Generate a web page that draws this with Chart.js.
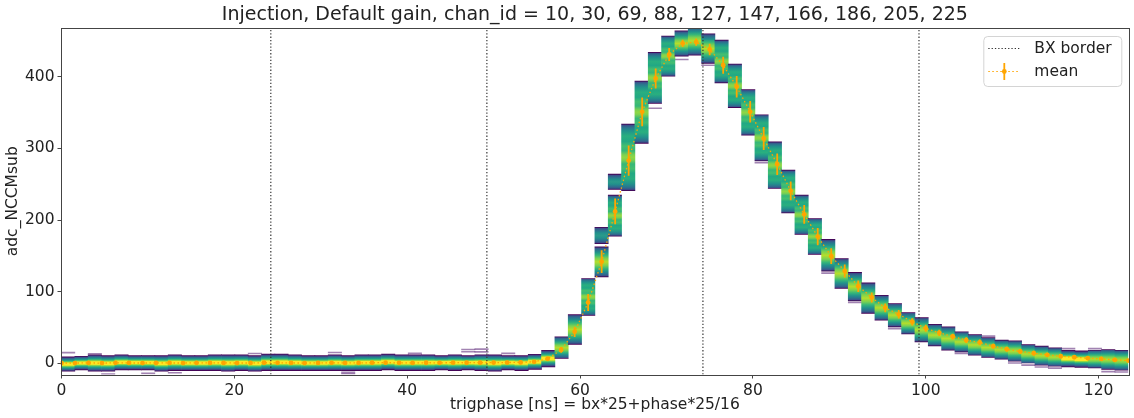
<!DOCTYPE html>
<html>
<head>
<meta charset="utf-8">
<title>Injection scan</title>
<script src="https://cdn.jsdelivr.net/npm/chart.js@4.4.1/dist/chart.umd.min.js"></script>
<style>
  html, body { margin: 0; padding: 0; background: #fff; }
  #plot { display: block; }
</style>
</head>
<body>
<canvas id="plot" width="1134" height="418"></canvas>
<script>
// trigphase grid: one point per phase step (25/16 ns), 80 steps
const trigphase = Array.from({ length: 80 }, (_, k) => k * 25 / 16);
const X_MAX = 123.4375;
const BIN_W = X_MAX / 80;   // 2D histogram x-bin width

// 2D histogram: occupied adc range of each x-bin
const histLo = [
  -11, -9, -11, -11, -9, -9, -9, -11, -10, -10, -10, -10, -11, -10, -11, -10,
  -10, -10, -10, -10, -10, -10, -10, -10, -9, -10, -10, -10, -9, -10, -9, -10,
  -11, -9, -10, -8.5,
  -4.9, 6.8, 26.4, 67, 120.7, 177.6, 241, 307, 362.7, 400.8, 428.8, 430,
  418.6, 391.5, 357, 318.5, 282.6, 244, 210, 180, 152, 128.7, 104.5, 87.2,
  69.7, 60.3, 51, 41, 30, 24.4, 18.4, 16, 11.4, 8.2, 5.9, 3, 0, -2.5,
  -3.9, -4.9, -5.7, -6.3, -8.5, -9.5
];
const histHi = [
  9, 10, 12, 11, 12, 11, 11, 11, 12, 11, 11, 12, 12, 12, 11, 13,
  13, 12, 11, 11, 12, 11, 12, 12, 13, 12, 12, 12, 11, 12, 11, 12,
  12, 11, 11, 12.8,
  18.4, 37, 68.2, 118.5, 162.6, 234.7, 334, 394, 434, 456.7, 464, 470,
  460, 451, 417.6, 382, 347, 309, 269.6, 234.7, 202, 173, 146.4, 126.9,
  112.4, 95, 83.6, 71, 63.8, 54.5, 51, 44, 40.3, 36.1, 32.4, 31.4, 26.4, 24,
  21.6, 18.4, 17.4, 18.4, 19.4, 18.4
];

// separate upper blocks (channels sitting higher in the same bin)
const blockBin = [40, 41];
const blockLo = [167, 242.6];
const blockHi = [190, 264];

// single-entry cells away from the bulk
const strayBin = [0, 2, 3, 6, 8, 14, 20, 21, 21, 26, 30, 30, 31, 31, 33,
  44, 46, 48, 52, 57, 59, 62, 67, 69, 71, 72, 73, 74, 75, 77, 78, 79];
const strayAdc = [15, 13.5, -15, -14, -13, 13.8, 15.2, -12.5, -14.5, 14, 19.4, 16.2, 19.8, 16, 14,
  356, 424, 416, 280, 126, 85, 48.5, 14, 38, 0.5, -2.5, -5, -6.5, 20.5, 20.5, -11.5, -12];

// mean and spread per phase
const meanAdc = [
  0.6, 0.5, 0.7, 0.4, 0.8, 0.6, 0.5, 0.7, 0.6, 0.5, 0.8, 0.6, 0.7, 0.5, 0.6, 0.9,
  0.8, 0.6, 0.5, 0.7, 0.8, 0.6, 0.7, 0.9, 1.0, 0.8, 0.7, 0.9, 0.8, 1.0, 0.9, 1.0,
  1.1, 1.2, 1.4, 2.2,
  6.5, 18.8, 44, 85, 142, 212, 283, 351, 397.6, 431, 446.5, 448.3,
  438, 416, 386, 351, 313.8, 278, 240.8, 208, 177, 149.6, 129, 107.7,
  92, 77.5, 68.5, 58, 49, 42.6, 37.5, 32.4, 29.2, 24, 19.8, 16.6, 14.2, 11.9,
  10, 8.7, 7.3, 6.3, 4.9, 4.0
];
const meanErr = [
  2.5, 2.5, 2.5, 2.5, 2.5, 2.5, 2.5, 2.5, 2.5, 2.5, 2.5, 2.5, 2.5, 2.5, 2.5, 2.5,
  2.5, 2.5, 2.5, 2.5, 2.5, 2.5, 2.5, 2.5, 2.5, 2.5, 2.5, 2.5, 2.5, 2.5, 2.5, 2.5,
  2.5, 2.5, 2.5, 2.5,
  2, 4, 7, 12, 16, 18, 21, 20, 14, 9, 5, 5,
  8, 12, 15, 15, 16, 15, 13, 13, 12, 11, 9, 8,
  7, 6, 6, 5, 5, 4.5, 4, 4, 4, 3.5, 3.5, 3.5, 3.5, 3,
  3, 3, 3, 3, 3, 3
];

const bxBorders = [24.21875, 49.21875, 74.21875, 99.21875];
const xTicks = [0, 20, 40, 60, 80, 100, 120];
const yTicks = [0, 100, 200, 300, 400];
const Y_MIN = -15.5, Y_MAX = 468;

const FONT = "'DejaVu Sans', sans-serif";
const ORANGE = '#ffa500';

// viridis ramps, half profile from cell edge (0) to cell centre (0.5)
const RAMP_CORE = [[0, '#440154'], [0.05, '#46327e'], [0.1, '#365c8d'], [0.17, '#277f8e'],
  [0.24, '#1fa187'], [0.31, '#4ac16d'], [0.37, '#a0da39'], [0.42, '#fde725'], [0.5, '#fde725']];
const RAMP_MID = [[0, '#440154'], [0.04, '#3b528b'], [0.1, '#2c728e'], [0.18, '#21918c'],
  [0.28, '#35b779'], [0.38, '#7ad151'], [0.5, '#b5de2b']];
const RAMP_WIDE = [[0, '#440154'], [0.02, '#3b528b'], [0.05, '#2c728e'], [0.1, '#21918c'],
  [0.18, '#29af7f'], [0.26, '#22a884'], [0.33, '#44bf70'], [0.4, '#35b779'], [0.46, '#7ad151'], [0.5, '#8fd744']];
const RAMP_SIDE = [[0, '#440154'], [0.08, '#3b528b'], [0.2, '#2c728e'], [0.35, '#21918c'], [0.5, '#2a9a8a']];

function cellFill(context, fixedRamp) {
  const chart = context.chart;
  const raw = context.raw;
  const yScale = chart.scales.y;
  if (!raw || !yScale) return '#21918c';
  const [lo, hi] = raw.y;
  const top = yScale.getPixelForValue(hi);
  const bot = yScale.getPixelForValue(lo);
  if (!isFinite(top) || !isFinite(bot) || bot - top < 1) return '#21918c';
  const span = hi - lo;
  const ramp = fixedRamp || (span < 24 ? RAMP_CORE : span < 45 ? RAMP_MID : RAMP_WIDE);
  const g = chart.ctx.createLinearGradient(0, top, 0, bot);
  ramp.forEach(([t, c]) => g.addColorStop(t, c));
  ramp.slice().reverse().forEach(([t, c]) => g.addColorStop(1 - t, c));
  return g;
}

const histCells = trigphase.map((_, k) => ({ x: (k + 0.5) * BIN_W, y: [histLo[k], histHi[k]] }));
const upperCells = blockBin.map((b, i) => ({ x: (b + 0.5) * BIN_W, y: [blockLo[i], blockHi[i]] }));
const strayCells = strayBin.map((b, i) => ({ x: (b + 0.5) * BIN_W, y: [strayAdc[i] - 0.7, strayAdc[i] + 0.7] }));
const meanPoints = trigphase.map((x, k) => ({ x, y: meanAdc[k] }));

const barCommon = {
  type: 'bar', grouped: false, barPercentage: 1, categoryPercentage: 1,
  borderWidth: 0, order: 3
};

const datasets = [
  Object.assign({ label: 'hist', data: histCells, backgroundColor: c => cellFill(c) }, barCommon),
  Object.assign({ label: 'hist upper', data: upperCells, backgroundColor: c => cellFill(c, RAMP_SIDE) }, barCommon),
  Object.assign({ label: 'hist stray', data: strayCells, backgroundColor: 'rgba(85, 30, 115, 0.55)' }, barCommon)
];
bxBorders.forEach(x => {
  datasets.push({
    type: 'line', label: 'BX border', data: [{ x, y: Y_MIN }, { x, y: Y_MAX }],
    borderColor: '#333', borderWidth: 1.2, borderDash: [1.3, 2], pointRadius: 0, order: 2
  });
});
datasets.push({
  type: 'line', label: 'mean', data: meanPoints,
  borderColor: ORANGE, borderWidth: 1.3, borderDash: [1.5, 2.5],
  pointRadius: 2.4, pointBackgroundColor: ORANGE, pointBorderWidth: 0, order: 1
});
const MEAN_IDX = datasets.length - 1;

// vertical error bars on the mean points
const errorBars = {
  id: 'errorBars',
  beforeDatasetDraw(chart, args) {
    if (args.index !== MEAN_IDX) return;
    const { ctx, scales: { x, y } } = chart;
    ctx.save();
    ctx.strokeStyle = ORANGE;
    ctx.lineWidth = 1.8;
    ctx.beginPath();
    meanPoints.forEach((p, k) => {
      const px = x.getPixelForValue(p.x);
      ctx.moveTo(px, y.getPixelForValue(p.y - meanErr[k]));
      ctx.lineTo(px, y.getPixelForValue(p.y + meanErr[k]));
    });
    ctx.stroke();
    ctx.restore();
  }
};

// axes frame on all four sides
const frame = {
  id: 'frame',
  afterDatasetsDraw(chart) {
    const { ctx, chartArea: a } = chart;
    ctx.save();
    ctx.strokeStyle = '#444';
    ctx.lineWidth = 1;
    ctx.strokeRect(Math.round(a.left) - 0.5, Math.round(a.top) + 0.5,
      Math.round(a.right - a.left) + 1, Math.round(a.bottom - a.top));
    ctx.restore();
  }
};

// boxed legend in the upper right corner
const boxLegend = {
  id: 'boxLegend',
  afterDraw(chart) {
    const { ctx, chartArea: a } = chart;
    const w = 138, h = 50;
    const x = a.right - w - 7, y = a.top + 8;
    ctx.save();
    ctx.beginPath();
    if (ctx.roundRect) ctx.roundRect(x + 0.5, y + 0.5, w, h, 4); else ctx.rect(x + 0.5, y + 0.5, w, h);
    ctx.fillStyle = 'rgba(255,255,255,0.8)';
    ctx.fill();
    ctx.strokeStyle = '#d4d4d4';
    ctx.lineWidth = 1;
    ctx.stroke();

    const r1 = y + 12.5, r2 = y + 35.5;
    ctx.lineWidth = 1.2;
    ctx.strokeStyle = '#333';
    ctx.setLineDash([1.3, 2]);
    ctx.beginPath(); ctx.moveTo(x + 5, r1); ctx.lineTo(x + 37, r1); ctx.stroke();
    ctx.strokeStyle = ORANGE;
    ctx.setLineDash([1.5, 2.5]);
    ctx.beginPath(); ctx.moveTo(x + 5, r2); ctx.lineTo(x + 37, r2); ctx.stroke();
    ctx.setLineDash([]);
    ctx.lineWidth = 1.8;
    ctx.beginPath(); ctx.moveTo(x + 21, r2 - 8.5); ctx.lineTo(x + 21, r2 + 8.5); ctx.stroke();
    ctx.fillStyle = ORANGE;
    ctx.beginPath(); ctx.arc(x + 21, r2, 2.4, 0, Math.PI * 2); ctx.fill();

    ctx.fillStyle = '#222';
    ctx.font = '15.5px ' + FONT;
    ctx.textBaseline = 'middle';
    ctx.fillText('BX border', x + 51, r1);
    ctx.fillText('mean', x + 51, r2);
    ctx.restore();
  }
};

new Chart(document.getElementById('plot'), {
  type: 'bar',
  data: { datasets },
  options: {
    responsive: false,
    devicePixelRatio: 1,
    animation: false,
    events: [],
    layout: { padding: { left: 0, right: 5.7, top: 0, bottom: 0 } },
    plugins: {
      legend: { display: false },
      tooltip: { enabled: false },
      title: {
        display: true, fullSize: false,
        text: 'Injection, Default gain, chan_id = 10, 30, 69, 88, 127, 147, 166, 186, 205, 225',
        color: '#222', font: { family: FONT, size: 19, weight: 'normal', lineHeight: 1.2 },
        padding: { top: 4, bottom: 1.2 }
      }
    },
    scales: {
      x: {
        type: 'linear', min: 0, max: X_MAX, offset: false,
        afterBuildTicks: s => { s.ticks = xTicks.map(v => ({ value: v })); },
        afterFit: s => { s.height = 43.5; },
        grid: { display: true, drawOnChartArea: false, drawTicks: true, tickLength: 4, tickColor: '#444', offset: false },
        border: { display: false },
        ticks: { color: '#222', font: { family: FONT, size: 15.5 }, padding: 3, maxRotation: 0 },
        title: {
          display: true, text: 'trigphase [ns] = bx*25+phase*25/16', color: '#222',
          font: { family: FONT, size: 15.5 }, padding: { top: 0, bottom: 4 }
        }
      },
      y: {
        type: 'linear', min: Y_MIN, max: Y_MAX,
        afterBuildTicks: s => { s.ticks = yTicks.map(v => ({ value: v })); },
        afterFit: s => { s.width = 61.5; },
        grid: { display: true, drawOnChartArea: false, drawTicks: true, tickLength: 4, tickColor: '#444' },
        border: { display: false },
        ticks: { color: '#222', font: { family: FONT, size: 15.5 }, padding: 3 },
        title: {
          display: true, text: 'adc_NCCMsub', color: '#222',
          font: { family: FONT, size: 15.5 }, padding: { top: 4, bottom: 0 }
        }
      }
    }
  },
  plugins: [errorBars, frame, boxLegend]
});
</script>
</body>
</html>
